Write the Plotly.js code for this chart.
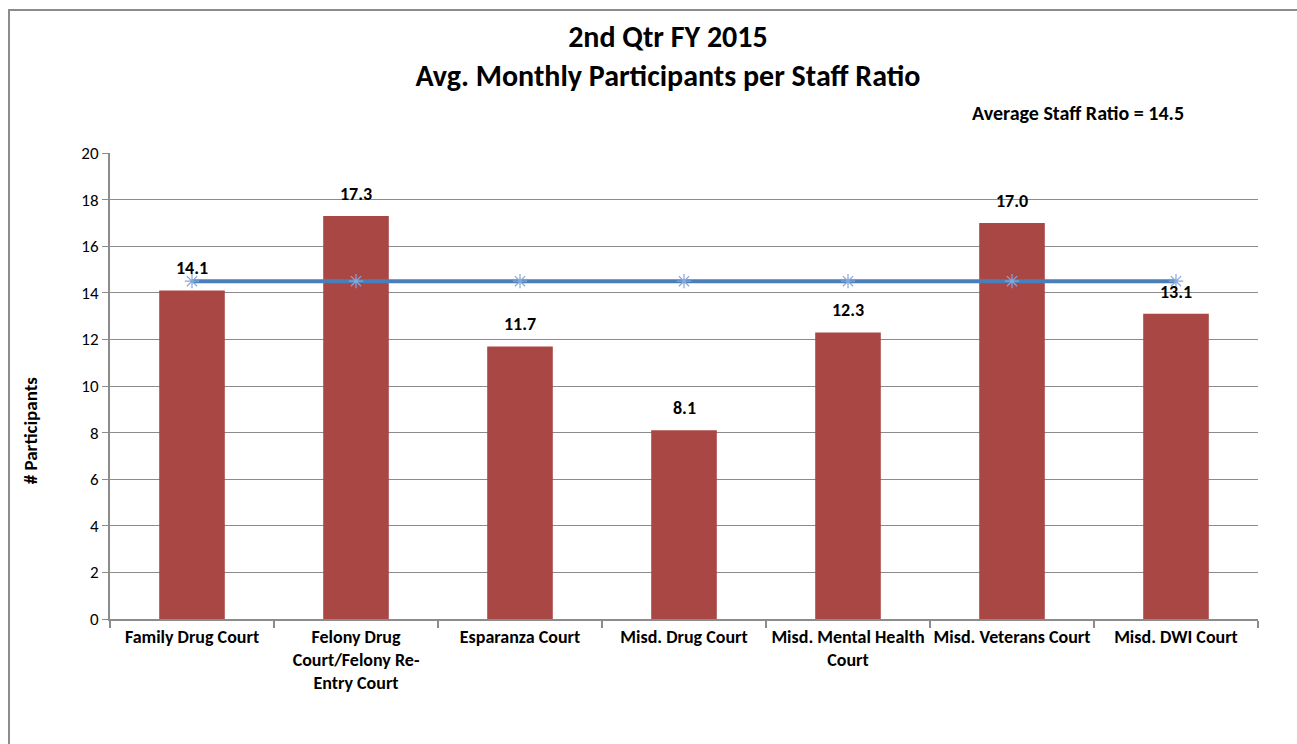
<!DOCTYPE html>
<html>
<head>
<meta charset="utf-8">
<script src="https://cdn.plot.ly/plotly-3.0.1.min.js"></script>
<style>
  html, body { margin: 0; padding: 0; background: #fff; }
  #chart { position: absolute; left: 0; top: 0; width: 1297px; height: 744px; }
  #frame { position: absolute; left: 8px; top: 9px; width: 1400px; height: 800px;
           border-left: 2px solid #8c8c8c; border-top: 2px solid #8c8c8c; pointer-events: none; }
</style>
</head>
<body>
<div id="chart"></div>
<div id="frame"></div>
<script>
const categories = [
  "Family Drug Court",
  "Felony Drug<br>Court/Felony Re-<br>Entry Court",
  "Esparanza Court",
  "Misd. Drug Court",
  "Misd. Mental Health<br>Court",
  "Misd. Veterans Court",
  "Misd. DWI Court"
];
const participantsPerStaff = [14.1, 17.3, 11.7, 8.1, 12.3, 17.0, 13.1];
const averageRatio = [14.5, 14.5, 14.5, 14.5, 14.5, 14.5, 14.5];
const yTicks = [0, 2, 4, 6, 8, 10, 12, 14, 16, 18, 20];

const FONT = "Carlito, Lato, 'Liberation Sans', sans-serif";

const bars = {
  type: "bar",
  x: categories,
  y: participantsPerStaff,
  width: 0.4,
  marker: { color: "#A94744", line: { width: 0 } },
  hoverinfo: "x+y",
  showlegend: false
};

const avgLine = {
  type: "scatter",
  mode: "lines+markers",
  x: categories,
  y: averageRatio,
  line: { color: "#4A7EBB", width: 4 },
  marker: { symbol: "asterisk-open", size: 12, color: "#86A8D8", line: { color: "#86A8D8", width: 1.2 } },
  showlegend: false
};

const labelAnnotations = categories.map((c, i) => ({
  x: c, y: participantsPerStaff[i], xref: "x", yref: "y",
  text: "<b>" + participantsPerStaff[i].toFixed(1) + "</b>",
  showarrow: false, yshift: 22,
  font: { family: FONT, size: 18, color: "#000" }
}));

const layout = {
  width: 1297, height: 744,
  paper_bgcolor: "#fff", plot_bgcolor: "#fff",
  margin: { l: 110, r: 39, t: 153, b: 125 },
  font: { family: FONT, color: "#000" },
  title: {
    text: "<b>2nd Qtr FY 2015<br>Avg. Monthly Participants per Staff Ratio</b>",
    x: 0.515, xanchor: "center", y: 0.937, yanchor: "middle",
    font: { family: FONT, size: 30, color: "#000" }
  },
  bargap: 0.6,
  xaxis: {
    type: "category",
    showgrid: false,
    showline: true, linecolor: "#8c8c8c", linewidth: 2,
    ticks: "outside", tickson: "boundaries", ticklen: 7, tickcolor: "#8c8c8c", tickwidth: 2,
    tickfont: { family: FONT, size: 18, color: "#000", weight: "bold" },
    tickangle: 0,
    range: [-0.5, 6.5]
  },
  yaxis: {
    range: [0, 20],
    tickvals: yTicks,
    showgrid: true, gridcolor: "#8c8c8c", gridwidth: 1,
    showline: true, linecolor: "#8c8c8c", linewidth: 2,
    ticks: "outside", ticklen: 6, tickcolor: "#8c8c8c", tickwidth: 1,
    tickfont: { family: FONT, size: 17, color: "#000" },
    zeroline: false
  },
  annotations: labelAnnotations.concat([{
    xref: "paper", yref: "paper", x: 0.843, y: 1.085, xanchor: "center", yanchor: "middle",
    text: "<b>Average Staff Ratio = 14.5</b>", showarrow: false,
    font: { family: FONT, size: 20, color: "#000" }
  }, {
    xref: "paper", yref: "paper", x: -0.0697, y: 0.405, xanchor: "center", yanchor: "middle",
    text: "<b># Participants</b>", showarrow: false, textangle: -90,
    font: { family: FONT, size: 19, color: "#000" }
  }])
};

Plotly.newPlot("chart", [bars, avgLine], layout, { displayModeBar: false, staticPlot: true });
</script>
</body>
</html>
